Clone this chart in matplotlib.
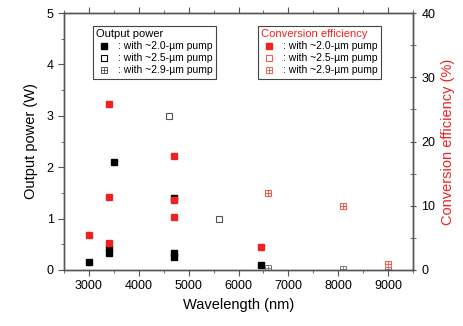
import matplotlib.pyplot as plt
from matplotlib.ticker import MultipleLocator
from matplotlib.lines import Line2D
from matplotlib.legend_handler import HandlerTuple

plt.rcParams['font.family'] = ['Liberation Sans', 'DejaVu Sans']

# output power (W)
p20_wl = [3000, 3400, 3400, 3500, 4700, 4700, 4700, 6450]
p20_pw = [0.15, 0.42, 0.34, 2.1, 1.4, 0.33, 0.26, 0.1]
p25_wl = [4600, 5600]
p25_pw = [3.0, 1.0]
p29_wl = [6600, 8100, 9000]
p29_pw = [0.03, 0.02, 0.02]

# conversion efficiency (%)
e20_wl = [3000, 3400, 3400, 3400, 4700, 4700, 4700, 6450]
e20_ce = [5.4, 25.8, 11.3, 4.2, 17.7, 10.9, 8.3, 3.6]
e29_wl = [6600, 8100, 9000]
e29_ce = [12.0, 9.9, 1.0]

red = '#ee2222'
pink = '#f06050'

fig = plt.figure(figsize=(4.63, 3.26), dpi=100)
ax = fig.add_axes([64/463, 1-270/326, 349/463, 257/326])
ax2 = ax.twinx()

ax.plot(p20_wl, p20_pw, 's', color='black', ms=4.2, ls='none')
ax.plot(p25_wl, p25_pw, 's', mfc='white', mec='#555555', mew=0.8, ms=3.8, ls='none')
ax.plot(p29_wl, p29_pw, 's', mfc='white', mec='#777777', mew=0.7, ms=3.8, ls='none')
ax.plot(p29_wl, p29_pw, '+', color='#777777', mew=0.6, ms=3.8, ls='none')

ax2.plot(e20_wl, e20_ce, 's', color=red, ms=4.6, ls='none')
ax2.plot(e29_wl, e29_ce, 's', mfc='white', mec=pink, mew=0.8, ms=4.4, ls='none')
ax2.plot(e29_wl, e29_ce, '+', color=pink, mew=0.7, ms=4.4, ls='none')

ax.set_xlim(2500, 9500)
ax.set_ylim(0, 5)
ax2.set_ylim(0, 40)

ax.xaxis.set_major_locator(MultipleLocator(1000))
ax.xaxis.set_minor_locator(MultipleLocator(500))
ax.yaxis.set_major_locator(MultipleLocator(1))
ax.yaxis.set_minor_locator(MultipleLocator(0.5))
ax2.yaxis.set_major_locator(MultipleLocator(10))
ax2.yaxis.set_minor_locator(MultipleLocator(5))

spine_c = '#555555'
for a in (ax, ax2):
    for s in a.spines.values():
        s.set_color(spine_c)
        s.set_linewidth(1.0)
ax.tick_params(axis='x', which='both', direction='out', top=True, color=spine_c, labelsize=9)
ax.tick_params(axis='x', which='major', length=4)
ax.tick_params(axis='x', which='minor', length=2.5)
ax.tick_params(axis='y', which='both', direction='out', color=spine_c, labelsize=9)
ax.tick_params(axis='y', which='major', length=4)
ax.tick_params(axis='y', which='minor', length=2.5)
ax2.tick_params(axis='y', which='both', direction='inout', color=spine_c, labelsize=9)
ax2.tick_params(axis='y', which='major', length=5)
ax2.tick_params(axis='y', which='minor', length=4)

ax.set_xlabel('Wavelength (nm)', fontsize=10.5)
ax.set_ylabel('Output power (W)', fontsize=10.5, labelpad=6)
ax2.set_ylabel('Conversion efficiency (%)', fontsize=10.5, color=red, labelpad=4)

lbls = [': with ~2.0-\u00b5m pump', ': with ~2.5-\u00b5m pump', ': with ~2.9-\u00b5m pump']

def handles(c_fill, c_open, c_cross):
    h1 = Line2D([], [], marker='s', color=c_fill, ls='none', ms=4)
    h2 = Line2D([], [], marker='s', mfc='white', mec=c_open, mew=0.8, ls='none', ms=3.8)
    h3a = Line2D([], [], marker='s', mfc='white', mec=c_cross, mew=0.7, ls='none', ms=3.8)
    h3b = Line2D([], [], marker='+', color=c_cross, mew=0.6, ls='none', ms=3.8)
    return [h1, h2, (h3a, h3b)]

leg_kw = dict(loc='upper left', fontsize=7.5, title_fontsize=8, alignment='left',
              frameon=True, fancybox=False, edgecolor='#444444', framealpha=1,
              handlelength=1.6, handletextpad=0.5, borderpad=0.3, labelspacing=0.2,
              borderaxespad=0, handler_map={tuple: HandlerTuple(ndivide=1, pad=0)})
leg1 = ax.legend(handles('black', 'black', '#555555'), lbls, title='Output power',
                 bbox_to_anchor=(29/349, 1-13/257), **leg_kw)
leg2 = ax2.legend(handles(red, pink, pink), lbls, title='Conversion efficiency',
                  bbox_to_anchor=(194/349, 1-13/257), **leg_kw)
leg2.get_title().set_color(red)
leg1.get_frame().set_linewidth(0.8)
leg2.get_frame().set_linewidth(0.8)

fig.savefig('out.png', dpi=100)
